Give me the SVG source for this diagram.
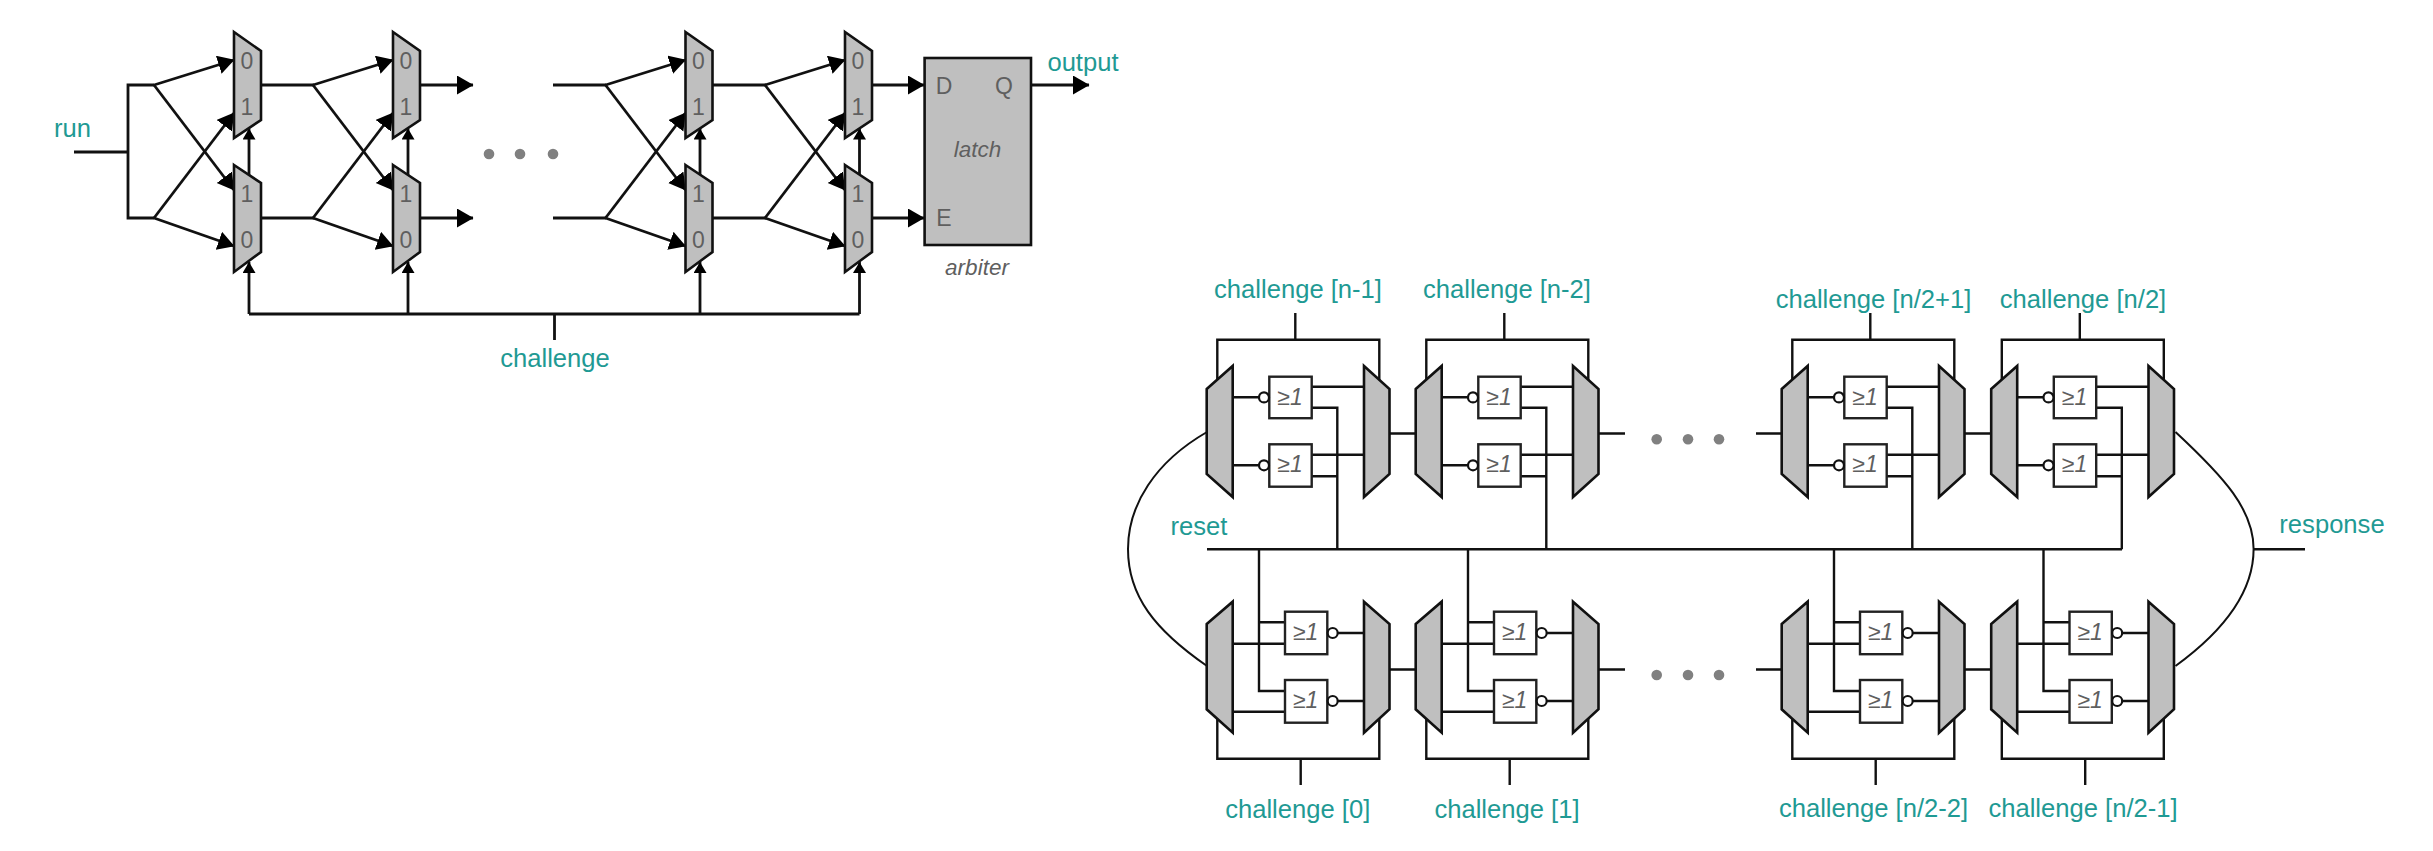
<svg xmlns="http://www.w3.org/2000/svg" width="2433" height="851" viewBox="0 0 2433 851">
<style>
text{font-family:"Liberation Sans",Arial,sans-serif}
.lbl{font-size:25.6px;fill:#1f9a94;text-anchor:middle}
.dig{font-size:23px;fill:#5f5f5f;text-anchor:middle}
.it{font-size:22.5px;fill:#5f5f5f;text-anchor:middle;font-style:italic}
.ge{font-size:23px;fill:#5f5f5f;text-anchor:middle;font-style:italic}
.mux{fill:#bfbfbf;stroke:#111;stroke-width:2.6;stroke-linejoin:miter}
.gate{fill:#fff;stroke:#222;stroke-width:2.4}
.bub{fill:#fff;stroke:#111;stroke-width:2.2}
.w{fill:none;stroke:#111;stroke-width:2.4}
.c{fill:none;stroke:#111;stroke-width:2}
.a{fill:none;stroke:#111;stroke-width:2.8}
.ah{marker-end:url(#big)}
.av{marker-end:url(#small)}
.dot{fill:#808080}
</style>
<defs>
<marker id="big" markerUnits="userSpaceOnUse" markerWidth="17" markerHeight="20" refX="16" refY="9.5" orient="auto"><path d="M0 0L16.5 9.5L0 19Z" fill="#000"/></marker>
<marker id="small" markerUnits="userSpaceOnUse" markerWidth="12" markerHeight="14" refX="11" refY="6.5" orient="auto"><path d="M0 0L11 6.5L0 13Z" fill="#000"/></marker>
<g id="fan"><path class="a ah" d="M0 85L80 60"/><path class="a ah" d="M0 85L80 190"/><path class="a ah" d="M0 218L80 113"/><path class="a ah" d="M0 218L80 246"/></g>
<g id="wires-up">
<path class="w" d="M1217.3 385V339.7H1379.3V385M1295.3 313V339.7M1311.7 386.7H1364M1311.7 407.7H1337.3V549.3M1311.7 454.7H1364M1311.7 476.3H1337.3M1232.7 397.3H1259M1232.7 465.3H1259"/>
</g>
<g id="wires-lo">
<path class="w" d="M1217.3 712V758.7H1379.3V712M1300.7 785V758.7M1259 549.3V691H1285M1259 622.3H1285M1232.7 643.7H1285M1232.7 711.7H1285M1338 633H1364M1338 701H1364"/>
</g>
</defs>

<g id="connectors">
<path class="a" d="M74 152H128M154 85H128V218H154M261 85H314M261 218H314M553 85H606M553 218H606M712 85H766M712 218H766M249 314H859.5M554.5 314V340"/>
<use href="#fan" x="154"/>
<use href="#fan" x="313"/>
<use href="#fan" x="605.5"/>
<use href="#fan" x="765"/>
<path class="a av" d="M249 175V128.5"/><path class="a av" d="M249 314V262"/>
<path class="a av" d="M408 175V128.5"/><path class="a av" d="M408 314V262"/>
<path class="a av" d="M700 175V128.5"/><path class="a av" d="M700 314V262"/>
<path class="a av" d="M859.5 175V128.5"/><path class="a av" d="M859.5 314V262"/>
<path class="a ah" d="M421 85H473"/><path class="a ah" d="M421 218H473"/>
<path class="a ah" d="M871 85H924"/><path class="a ah" d="M871 218H924"/>
<path class="a ah" d="M1031 85H1089"/>

<use href="#wires-up"/><use href="#wires-up" x="209"/><use href="#wires-up" x="575"/><use href="#wires-up" x="784.5"/>
<use href="#wires-lo"/><use href="#wires-lo" x="209"/><use href="#wires-lo" x="575"/><use href="#wires-lo" x="784.5"/>
<path class="w" d="M1207 549.3H2122M2253.6 549.3H2305"/>
<path class="w" d="M1389.5 433.5H1415.7M1599 433.5H1625M1756 433.5H1782M1965 433.5H1991M1389.5 669.5H1415.7M1599 669.5H1625M1756 669.5H1782M1965 669.5H1991"/>
<path class="c" d="M1207 432C1155 462 1128 505 1128 549C1128 596 1155 630 1207 666"/>
<path class="c" d="M2175.5 432C2225 478 2253.6 510 2253.6 549C2253.6 590 2225 630 2175.5 666"/>
</g>

<g id="arb-mux-0a" transform="translate(234,32)"><polygon class="mux" points="0,0 27,19 27,88 0,106"/><text class="dig" x="13" y="37">0</text><text class="dig" x="13" y="83">1</text></g>
<g id="arb-mux-0b" transform="translate(234,165)"><polygon class="mux" points="0,0 27,18 27,87 0,107"/><text class="dig" x="13" y="37">1</text><text class="dig" x="13" y="83">0</text></g>
<g id="arb-mux-1a" transform="translate(393,32)"><polygon class="mux" points="0,0 27,19 27,88 0,106"/><text class="dig" x="13" y="37">0</text><text class="dig" x="13" y="83">1</text></g>
<g id="arb-mux-1b" transform="translate(393,165)"><polygon class="mux" points="0,0 27,18 27,87 0,107"/><text class="dig" x="13" y="37">1</text><text class="dig" x="13" y="83">0</text></g>
<g id="arb-mux-2a" transform="translate(685.5,32)"><polygon class="mux" points="0,0 27,19 27,88 0,106"/><text class="dig" x="13" y="37">0</text><text class="dig" x="13" y="83">1</text></g>
<g id="arb-mux-2b" transform="translate(685.5,165)"><polygon class="mux" points="0,0 27,18 27,87 0,107"/><text class="dig" x="13" y="37">1</text><text class="dig" x="13" y="83">0</text></g>
<g id="arb-mux-3a" transform="translate(845,32)"><polygon class="mux" points="0,0 27,19 27,88 0,106"/><text class="dig" x="13" y="37">0</text><text class="dig" x="13" y="83">1</text></g>
<g id="arb-mux-3b" transform="translate(845,165)"><polygon class="mux" points="0,0 27,18 27,87 0,107"/><text class="dig" x="13" y="37">1</text><text class="dig" x="13" y="83">0</text></g>

<g id="latch"><rect class="mux" x="924.6" y="58" width="106.4" height="187"/><text class="dig" x="944" y="94">D</text><text class="dig" x="1004" y="94">Q</text><text class="dig" x="944" y="226">E</text><text class="it" x="977.5" y="157">latch</text></g>
<g id="dots-arbiter"><circle class="dot" cx="489" cy="154" r="5.3"/><circle class="dot" cx="520" cy="154" r="5.3"/><circle class="dot" cx="553" cy="154" r="5.3"/></g>

<g id="up-mux-0l"><polygon class="mux" points="1206.7,389 1232.7,366 1232.7,497 1206.7,474"/></g>
<g id="up-mux-0r"><polygon class="mux" points="1364,366 1389.5,389 1389.5,474 1364,497"/></g>
<g id="up-mux-1l" transform="translate(209,0)"><polygon class="mux" points="1206.7,389 1232.7,366 1232.7,497 1206.7,474"/></g>
<g id="up-mux-1r" transform="translate(209,0)"><polygon class="mux" points="1364,366 1389.5,389 1389.5,474 1364,497"/></g>
<g id="up-mux-2l" transform="translate(575,0)"><polygon class="mux" points="1206.7,389 1232.7,366 1232.7,497 1206.7,474"/></g>
<g id="up-mux-2r" transform="translate(575,0)"><polygon class="mux" points="1364,366 1389.5,389 1389.5,474 1364,497"/></g>
<g id="up-mux-3l" transform="translate(784.5,0)"><polygon class="mux" points="1206.7,389 1232.7,366 1232.7,497 1206.7,474"/></g>
<g id="up-mux-3r" transform="translate(784.5,0)"><polygon class="mux" points="1364,366 1389.5,389 1389.5,474 1364,497"/></g>
<g id="lo-mux-0l"><polygon class="mux" points="1206.7,624 1232.7,601.7 1232.7,732.7 1206.7,709.3"/></g>
<g id="lo-mux-0r"><polygon class="mux" points="1364,601.7 1389.5,624 1389.5,709.3 1364,732.7"/></g>
<g id="lo-mux-1l" transform="translate(209,0)"><polygon class="mux" points="1206.7,624 1232.7,601.7 1232.7,732.7 1206.7,709.3"/></g>
<g id="lo-mux-1r" transform="translate(209,0)"><polygon class="mux" points="1364,601.7 1389.5,624 1389.5,709.3 1364,732.7"/></g>
<g id="lo-mux-2l" transform="translate(575,0)"><polygon class="mux" points="1206.7,624 1232.7,601.7 1232.7,732.7 1206.7,709.3"/></g>
<g id="lo-mux-2r" transform="translate(575,0)"><polygon class="mux" points="1364,601.7 1389.5,624 1389.5,709.3 1364,732.7"/></g>
<g id="lo-mux-3l" transform="translate(784.5,0)"><polygon class="mux" points="1206.7,624 1232.7,601.7 1232.7,732.7 1206.7,709.3"/></g>
<g id="lo-mux-3r" transform="translate(784.5,0)"><polygon class="mux" points="1364,601.7 1389.5,624 1389.5,709.3 1364,732.7"/></g>

<g id="up-gate-0a" transform="translate(1269.3,376.7)"><rect class="gate" width="42.4" height="41.5"/><circle class="bub" cx="-5.3" cy="20.7" r="5"/><text class="ge" x="20.7" y="28">≥1</text></g>
<g id="up-gate-0b" transform="translate(1269.3,444.3)"><rect class="gate" width="42.4" height="42.4"/><circle class="bub" cx="-5.3" cy="21" r="5"/><text class="ge" x="20.7" y="28.2">≥1</text></g>
<g id="up-gate-1a" transform="translate(1478.3,376.7)"><rect class="gate" width="42.4" height="41.5"/><circle class="bub" cx="-5.3" cy="20.7" r="5"/><text class="ge" x="20.7" y="28">≥1</text></g>
<g id="up-gate-1b" transform="translate(1478.3,444.3)"><rect class="gate" width="42.4" height="42.4"/><circle class="bub" cx="-5.3" cy="21" r="5"/><text class="ge" x="20.7" y="28.2">≥1</text></g>
<g id="up-gate-2a" transform="translate(1844.3,376.7)"><rect class="gate" width="42.4" height="41.5"/><circle class="bub" cx="-5.3" cy="20.7" r="5"/><text class="ge" x="20.7" y="28">≥1</text></g>
<g id="up-gate-2b" transform="translate(1844.3,444.3)"><rect class="gate" width="42.4" height="42.4"/><circle class="bub" cx="-5.3" cy="21" r="5"/><text class="ge" x="20.7" y="28.2">≥1</text></g>
<g id="up-gate-3a" transform="translate(2053.8,376.7)"><rect class="gate" width="42.4" height="41.5"/><circle class="bub" cx="-5.3" cy="20.7" r="5"/><text class="ge" x="20.7" y="28">≥1</text></g>
<g id="up-gate-3b" transform="translate(2053.8,444.3)"><rect class="gate" width="42.4" height="42.4"/><circle class="bub" cx="-5.3" cy="21" r="5"/><text class="ge" x="20.7" y="28.2">≥1</text></g>
<g id="lo-gate-0a" transform="translate(1285,611.7)"><rect class="gate" width="42.3" height="42.5"/><circle class="bub" cx="47.7" cy="21.3" r="5"/><text class="ge" x="20.7" y="28.2">≥1</text></g>
<g id="lo-gate-0b" transform="translate(1285,680)"><rect class="gate" width="42.3" height="42.7"/><circle class="bub" cx="47.7" cy="21" r="5"/><text class="ge" x="20.7" y="28.2">≥1</text></g>
<g id="lo-gate-1a" transform="translate(1494,611.7)"><rect class="gate" width="42.3" height="42.5"/><circle class="bub" cx="47.7" cy="21.3" r="5"/><text class="ge" x="20.7" y="28.2">≥1</text></g>
<g id="lo-gate-1b" transform="translate(1494,680)"><rect class="gate" width="42.3" height="42.7"/><circle class="bub" cx="47.7" cy="21" r="5"/><text class="ge" x="20.7" y="28.2">≥1</text></g>
<g id="lo-gate-2a" transform="translate(1860,611.7)"><rect class="gate" width="42.3" height="42.5"/><circle class="bub" cx="47.7" cy="21.3" r="5"/><text class="ge" x="20.7" y="28.2">≥1</text></g>
<g id="lo-gate-2b" transform="translate(1860,680)"><rect class="gate" width="42.3" height="42.7"/><circle class="bub" cx="47.7" cy="21" r="5"/><text class="ge" x="20.7" y="28.2">≥1</text></g>
<g id="lo-gate-3a" transform="translate(2069.5,611.7)"><rect class="gate" width="42.3" height="42.5"/><circle class="bub" cx="47.7" cy="21.3" r="5"/><text class="ge" x="20.7" y="28.2">≥1</text></g>
<g id="lo-gate-3b" transform="translate(2069.5,680)"><rect class="gate" width="42.3" height="42.7"/><circle class="bub" cx="47.7" cy="21" r="5"/><text class="ge" x="20.7" y="28.2">≥1</text></g>

<g id="dots-ring"><circle class="dot" cx="1656.7" cy="439.3" r="5.3"/><circle class="dot" cx="1688" cy="439.3" r="5.3"/><circle class="dot" cx="1719" cy="439.3" r="5.3"/><circle class="dot" cx="1656.7" cy="675" r="5.3"/><circle class="dot" cx="1688" cy="675" r="5.3"/><circle class="dot" cx="1719" cy="675" r="5.3"/></g>

<g id="labels">
<text class="lbl" x="72.5" y="137">run</text>
<text class="lbl" x="1083" y="71">output</text>
<text class="lbl" x="555" y="367">challenge</text>
<text class="it" x="977" y="275">arbiter</text>
<text class="lbl" x="1298" y="298">challenge [n-1]</text>
<text class="lbl" x="1507" y="298">challenge [n-2]</text>
<text class="lbl" x="1873.5" y="308">challenge [n/2+1]</text>
<text class="lbl" x="2083" y="308">challenge [n/2]</text>
<text class="lbl" x="1199" y="535">reset</text>
<text class="lbl" x="2332" y="533">response</text>
<text class="lbl" x="1297.7" y="818">challenge [0]</text>
<text class="lbl" x="1507" y="818">challenge [1]</text>
<text class="lbl" x="1873.5" y="817">challenge [n/2-2]</text>
<text class="lbl" x="2083" y="817">challenge [n/2-1]</text>
</g>
</svg>
